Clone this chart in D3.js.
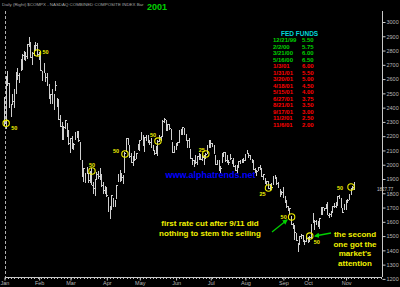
<!DOCTYPE html>
<html>
<head>
<meta charset="utf-8">
<script src="https://cdn.jsdelivr.net/npm/d3@7"></script>
<style>
  html, body { margin: 0; padding: 0; background: #000; }
  svg { display: block; font-family: "Liberation Sans", Arial, sans-serif; }
</style>
</head>
<body>
<div id="chart"></div>
<script>
// ---- data: NASDAQ composite daily bars, 2001 ----
const dates = [
  "01/02","01/03","01/04","01/05","01/08","01/09","01/10","01/11","01/12","01/16","01/17","01/18","01/19","01/22","01/23","01/24","01/25","01/26","01/29","01/30","01/31",
  "02/01","02/02","02/05","02/06","02/07","02/08","02/09","02/12","02/13","02/14","02/15","02/16","02/20","02/21","02/22","02/23","02/26","02/27","02/28",
  "03/01","03/02","03/05","03/06","03/07","03/08","03/09","03/12","03/13","03/14","03/15","03/16","03/19","03/20","03/21","03/22","03/23","03/26","03/27","03/28","03/29","03/30",
  "04/02","04/03","04/04","04/05","04/06","04/09","04/10","04/11","04/12","04/16","04/17","04/18","04/19","04/20","04/23","04/24","04/25","04/26","04/27","04/30",
  "05/01","05/02","05/03","05/04","05/07","05/08","05/09","05/10","05/11","05/14","05/15","05/16","05/17","05/18","05/21","05/22","05/23","05/24","05/25","05/29","05/30","05/31",
  "06/01","06/04","06/05","06/06","06/07","06/08","06/11","06/12","06/13","06/14","06/15","06/18","06/19","06/20","06/21","06/22","06/25","06/26","06/27","06/28","06/29",
  "07/02","07/03","07/05","07/06","07/09","07/10","07/11","07/12","07/13","07/16","07/17","07/18","07/19","07/20","07/23","07/24","07/25","07/26","07/27","07/30","07/31",
  "08/01","08/02","08/03","08/06","08/07","08/08","08/09","08/10","08/13","08/14","08/15","08/16","08/17","08/20","08/21","08/22","08/23","08/24","08/27","08/28","08/29","08/30","08/31",
  "09/04","09/05","09/06","09/07","09/10","09/17","09/18","09/19","09/20","09/21","09/24","09/25","09/26","09/27","09/28",
  "10/01","10/02","10/03","10/04","10/05","10/08","10/09","10/10","10/11","10/12","10/15","10/16","10/17","10/18","10/19","10/22","10/23","10/24","10/25","10/26","10/29","10/30","10/31",
  "11/01","11/02","11/05","11/06","11/07","11/08"
];
const highs = [
  2474,2618,2656,2574,2426,2497,2528,2650,2680,2641,2742,2778,2798,2788,2845,2892,2860,2790,2842,2862,2850,
  2790,2800,2660,2715,2640,2645,2567,2495,2530,2497,2590,2470,2460,2345,2300,2270,2310,2290,2240,
  2185,2200,2153,2232,2234,2236,2160,2035,1976,1940,1985,1940,1957,1975,1880,1900,1950,1955,1977,1935,1880,1850,
  1845,1775,1708,1785,1765,1755,1860,1938,1962,1945,1927,2090,2186,2190,2140,2080,2062,2095,2080,2146,
  2170,2228,2210,2194,2205,2205,2175,2190,2140,2100,2130,2170,2210,2200,2310,2330,2315,2285,2285,2252,2160,2130,
  2155,2160,2240,2250,2265,2255,2215,2175,2185,2110,2045,2035,2070,2060,2085,2075,2070,2068,2080,2140,2175,
  2175,2150,2135,2070,2035,2035,1990,2080,2090,2090,2070,2035,2075,2035,2045,1995,1997,2025,2035,2040,2050,
  2075,2105,2085,2065,2040,2035,1975,1965,1985,1995,1975,1935,1905,1885,1885,1865,1875,1920,1925,1915,1880,1830,1815,
  1845,1780,1755,1710,1700,1640,1590,1575,1520,1455,1500,1515,1510,1475,1500,
  1495,1500,1585,1660,1610,1610,1605,1630,1705,1705,1700,1725,1740,1665,1675,1710,1735,1740,1778,1790,1765,1695,1725,
  1750,1760,1795,1840,1850,1880
];
const lows = [
  2273,2251,2552,2395,2335,2420,2400,2495,2595,2576,2660,2665,2735,2730,2741,2826,2750,2700,2765,2800,2760,
  2735,2655,2590,2640,2577,2555,2462,2425,2425,2383,2520,2405,2315,2261,2170,2172,2250,2195,2135,
  2080,2110,2105,2170,2190,2162,2032,1917,1880,1873,1935,1875,1873,1855,1793,1781,1890,1897,1895,1845,1795,1795,
  1772,1670,1619,1680,1705,1705,1762,1880,1882,1888,1865,1940,2090,2135,2050,2010,1990,2025,2040,2100,
  2098,2170,2130,2090,2165,2155,2135,2120,2095,2070,2075,2060,2160,2165,2195,2290,2240,2235,2245,2170,2080,2080,
  2105,2128,2155,2210,2205,2205,2165,2115,2120,2040,1995,1985,2005,1995,2030,2030,2025,2000,2040,2075,2120,
  2115,2125,2078,2000,1995,1960,1942,2015,2055,2020,2010,1995,2035,2005,1985,1955,1935,1975,2005,2010,2015,
  2025,2075,2050,2030,2010,1962,1940,1920,1955,1960,1915,1890,1865,1860,1830,1825,1840,1855,1900,1860,1840,1775,1785,
  1768,1730,1700,1675,1650,1575,1550,1475,1465,1387,1440,1480,1460,1440,1460,
  1455,1460,1480,1590,1540,1575,1565,1550,1650,1650,1675,1690,1645,1630,1635,1665,1695,1700,1710,1760,1698,1662,1685,
  1680,1730,1750,1785,1820,1820
];
const closes = [
  2292,2617,2567,2408,2396,2441,2524,2641,2627,2619,2683,2768,2770,2758,2840,2859,2754,2781,2838,2838,2773,
  2783,2661,2643,2664,2608,2562,2471,2490,2428,2491,2553,2425,2318,2269,2245,2263,2308,2208,2152,
  2183,2118,2143,2204,2224,2169,2053,1923,1972,1914,1941,1891,1951,1857,1830,1898,1929,1918,1972,1854,1821,1840,
  1783,1673,1639,1785,1720,1746,1852,1899,1961,1910,1923,2079,2182,2163,2059,2017,2060,2035,2076,2116,
  2168,2221,2146,2192,2174,2199,2157,2129,2107,2082,2086,2166,2194,2199,2306,2314,2243,2282,2251,2176,2085,2110,
  2149,2156,2234,2218,2264,2215,2171,2170,2124,2044,2028,1989,2014,2058,2059,2035,2051,2065,2075,2125,2161,
  2149,2141,2080,2004,2027,1963,1972,2076,2085,2029,2067,2016,2047,2029,1989,1959,1994,2023,2029,2017,2027,
  2068,2087,2066,2034,2028,1966,1963,1956,1982,1965,1919,1930,1867,1881,1831,1860,1843,1917,1912,1865,1843,1792,1805,
  1771,1759,1706,1688,1695,1580,1555,1528,1471,1423,1499,1502,1464,1461,1499,
  1480,1492,1581,1597,1605,1606,1570,1626,1701,1703,1696,1723,1646,1653,1671,1708,1704,1732,1775,1769,1700,1667,1690,
  1746,1746,1794,1835,1838,1828
];
const lastClose = "1827.77";

const months = ["Jan","Feb","Mar","Apr","May","Jun","Jul","Aug","Sep","Oct","Nov"];
const monthStarts = ["01/02","02/01","03/01","04/02","05/01","06/01","07/02","08/01","09/04","10/01","11/01"];

// fed funds table
const fedDates = ["12/21/99","2/2/00","3/21/00","5/16/00","1/3/01","1/31/01","3/20/01","4/18/01","5/15/01","6/27/01","8/21/01","9/17/01","11/2/01","11/6/01"];
const fedRates = ["5.50","5.75","6.00","6.50","6.00","5.50","5.00","4.50","4.00","3.75","3.50","3.00","2.50","2.00"];
const fedHike = [true,true,true,true,false,false,false,false,false,false,false,false,false,false];

// rate cut markers on the chart
const cutBars = ["01/03","01/31","03/20","04/18","05/16","06/27","08/21","09/17","10/02","11/06"];
const cutLevels = [2290,2783,1956,2075,2166,2075,1837,1634,1500,1844];
const cutSizes = ["50","50","50","50","50","25","25","50","50","50"];
const cutLabelOffsets = [[5,5],[5,-1],[-3,-6],[-12,-3],[-8,-6],[-7,-4],[-9,6],[-11,0],[4,6],[-14,1]];

const yTicks = d3.range(1200, 3001, 100);

// ---- drawing ----
const W = 400, H = 287;
const svg = d3.select("#chart").append("svg")
    .attr("width", W).attr("height", H);

svg.append("rect").attr("width", W).attr("height", H).attr("fill", "#000");

const x = d3.scaleLinear().domain([0, 229]).range([4.5, 382.35]);
const y = d3.scaleLinear().domain([1200, 3000]).range([278.9, 22]);
const idx = d => dates.indexOf(d);

// header
svg.append("text").attr("x", 2).attr("y", 5.5)
    .attr("fill", "#a8a8a8").attr("font-size", 4.4)
    .text("Daily      (Right) $COMPX - NASDAQ COMBINED COMPOSITE INDEX Bar");

svg.append("text").attr("x", 147).attr("y", 9.5)
    .attr("fill", "#00d000").attr("font-size", 9).attr("font-weight", "bold")
    .text("2001");

// left dashed border
svg.append("line")
    .attr("x1", 5.5).attr("x2", 5.5).attr("y1", 11).attr("y2", 277)
    .attr("stroke", "#b0b0b0").attr("stroke-dasharray", "3,2");

// right price axis
const yAxis = svg.append("g")
    .attr("transform", "translate(382.5,0)")
    .call(d3.axisRight(y).tickValues(yTicks).tickSize(3).tickPadding(1).tickFormat(d3.format("d")));
yAxis.select(".domain").attr("stroke", "#c8c8c8").attr("d", "M0,11V277");
yAxis.selectAll(".tick line").attr("stroke", "#c8c8c8");
yAxis.selectAll(".tick text").attr("fill", "#b8b8b8").attr("font-size", 5.5)
    .attr("font-family", "Liberation Sans, Arial, sans-serif");

// last price label, sits over the 1800 tick like in the source
svg.append("text").attr("x", 377).attr("y", y(1827.77) + 1.5)
    .attr("fill", "#c8c8c8").attr("font-size", 4.5).text(lastClose);

// bottom time axis
const xAxis = svg.append("g")
    .attr("transform", "translate(0,277.5)")
    .call(d3.axisBottom(x).tickValues(monthStarts.map(idx)).tickSize(3).tickPadding(1)
        .tickFormat((d, i) => months[i]));
xAxis.select(".domain").attr("stroke", "#c8c8c8").attr("d", "M5,0H382");
xAxis.selectAll(".tick line").attr("stroke", "#c8c8c8");
xAxis.selectAll(".tick text").attr("fill", "#b8b8b8").attr("font-size", 5.5)
    .attr("font-family", "Liberation Sans, Arial, sans-serif");

svg.append("g").selectAll("line")
    .data(d3.range(0, 230, 2))
    .enter().append("line")
    .attr("x1", d => Math.round(x(d)) + 0.5).attr("x2", d => Math.round(x(d)) + 0.5)
    .attr("y1", 277.5).attr("y2", 279)
    .attr("stroke", "#c8c8c8");

// fed funds table
svg.append("text").attr("x", 281).attr("y", 36)
    .attr("fill", "#00d8d8").attr("font-size", 6.5).attr("font-weight", "bold")
    .text("FED FUNDS");

const rows = svg.append("g").selectAll("g")
    .data(fedDates)
    .enter().append("g")
    .attr("transform", (d, i) => `translate(0,${42 + i * 6.5})`)
    .attr("fill", (d, i) => fedHike[i] ? "#00d000" : "#ff0000")
    .attr("font-size", 6).attr("font-weight", "bold");
rows.append("text").attr("x", 273).text(d => d);
rows.append("text").attr("x", 302).text((d, i) => fedRates[i]);

// price bars
const bars = svg.append("g").attr("stroke", "#cfcfcf").attr("shape-rendering", "crispEdges");
bars.selectAll(".hl")
    .data(dates)
    .enter().append("line")
    .attr("class", "hl")
    .attr("x1", (d, i) => x(i)).attr("x2", (d, i) => x(i))
    .attr("y1", (d, i) => y(highs[i])).attr("y2", (d, i) => y(lows[i]));
bars.selectAll(".cl")
    .data(dates)
    .enter().append("line")
    .attr("class", "cl")
    .attr("x1", (d, i) => x(i)).attr("x2", (d, i) => x(i) + 1)
    .attr("y1", (d, i) => y(closes[i])).attr("y2", (d, i) => y(closes[i]));

// watermark
svg.append("text").attr("x", 210.5).attr("y", 178)
    .attr("text-anchor", "middle")
    .attr("fill", "#0000ff").attr("font-size", 9).attr("font-weight", "bold")
    .text("www.alphatrends.net");

// cut markers
const cuts = svg.append("g").selectAll("g")
    .data(cutBars)
    .enter().append("g")
    .attr("transform", (d, i) => `translate(${x(idx(d))},${y(cutLevels[i])})`);
cuts.append("circle").attr("r", 3.2)
    .attr("fill", "none").attr("stroke", "#f0f000").attr("stroke-width", 1.1);
cuts.append("text")
    .attr("x", (d, i) => cutLabelOffsets[i][0])
    .attr("y", (d, i) => cutLabelOffsets[i][1] + 2)
    .attr("fill", "#f0f000").attr("font-size", 5.5).attr("font-weight", "bold")
    .text((d, i) => cutSizes[i]);

// annotations
svg.append("defs").append("marker")
    .attr("id", "arrow").attr("viewBox", "0 0 10 10")
    .attr("refX", 8).attr("refY", 5)
    .attr("markerWidth", 4).attr("markerHeight", 4)
    .attr("orient", "auto")
    .append("path").attr("d", "M0,0L10,5L0,10z").attr("fill", "#00d000");

const note1 = ["first rate cut after 9/11 did", "nothing to stem the selling"];
svg.append("g").selectAll("text")
    .data(note1)
    .enter().append("text")
    .attr("x", 210).attr("y", (d, i) => 226 + i * 10)
    .attr("text-anchor", "middle")
    .attr("fill", "#f0f000").attr("font-size", 8).attr("font-weight", "bold")
    .text(d => d);

const note2 = ["the second", "one got the", "market's", "attention"];
svg.append("g").selectAll("text")
    .data(note2)
    .enter().append("text")
    .attr("x", 355).attr("y", (d, i) => 237 + i * 9.7)
    .attr("text-anchor", "middle")
    .attr("fill", "#f0f000").attr("font-size", 8).attr("font-weight", "bold")
    .text(d => d);

svg.append("line")
    .attr("x1", 272).attr("y1", 232).attr("x2", 287).attr("y2", 220)
    .attr("stroke", "#00d000").attr("stroke-width", 1.3)
    .attr("marker-end", "url(#arrow)");
svg.append("line")
    .attr("x1", 331).attr("y1", 233).attr("x2", 315).attr("y2", 236)
    .attr("stroke", "#00d000").attr("stroke-width", 1.3)
    .attr("marker-end", "url(#arrow)");
</script>
</body>
</html>
